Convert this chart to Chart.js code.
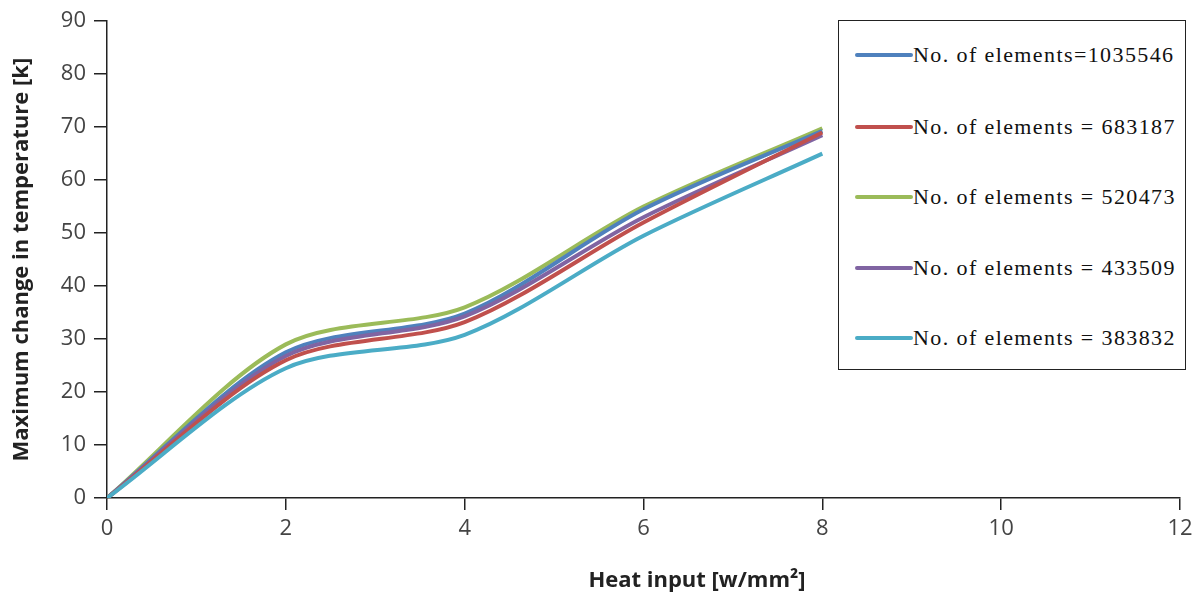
<!DOCTYPE html>
<html lang="en">
<head>
    <meta charset="UTF-8">
    <title>Maximum change in temperature vs heat input</title>
    <script src="https://cdn.jsdelivr.net/npm/chart.js"></script>
    <style>
        body { margin: 0; background: #fff; }
        #wrap { position: relative; width: 1202px; height: 597px; }
        #legend {
            position: absolute; left: 838px; top: 20px; width: 348px; height: 350px;
            border: 1.5px solid #222; background: #fff; box-sizing: border-box;
            font-family: "Liberation Serif", "Times New Roman", serif; font-size: 22px; color: #111;
            letter-spacing: 1.4px;
        }
        .row { position: absolute; left: 16px; height: 26px; display: flex; align-items: center; white-space: nowrap; }
        .swatch { width: 58px; height: 4px; border-radius: 2px; }
        #xtitle {
            position: absolute; left: 697px; top: 563px; transform: translateX(-50%);
            font-family: "Open Sans", sans-serif; font-weight: bold; font-size: 22px; color: #222;
            white-space: nowrap;
        }
    </style>
</head>
<body>
<div id="wrap">
    <canvas id="chart" width="1202" height="597"></canvas>
    <div id="legend"></div>
    <div id="xtitle">Heat input [w/mm²]</div>
</div>
<script>
    // heat input points (w/mm2)
    const heatInput = [0, 2, 4, 6, 8];

    // max temperature change per mesh size
    const elems1035546 = [0, 27.5, 34.8, 54.5, 69.3];
    const elems683187  = [0, 26.0, 33.2, 52.0, 69.0];
    const elems520473  = [0, 29.0, 36.0, 55.0, 69.8];
    const elems433509  = [0, 26.8, 34.3, 53.0, 68.5];
    const elems383832  = [0, 24.5, 30.8, 49.5, 65.0];

    const seriesNames = [
        "No. of elements=1035546",
        "No. of elements = 683187",
        "No. of elements = 520473",
        "No. of elements = 433509",
        "No. of elements = 383832"
    ];
    const seriesData = [elems1035546, elems683187, elems520473, elems433509, elems383832];
    const seriesColors = ["#4F81BD", "#C0504D", "#9BBB59", "#8064A2", "#4BACC6"];

    const xTicks = [0, 2, 4, 6, 8, 10, 12];
    const yTicks = [0, 10, 20, 30, 40, 50, 60, 70, 80, 90];

    // draw order: green on top like the original
    const drawOrder = [4, 1, 3, 0, 2];
    const datasets = drawOrder.map(i => ({
        label: seriesNames[i],
        data: heatInput.map((x, j) => ({ x: x, y: seriesData[i][j] })),
        borderColor: seriesColors[i],
        borderWidth: 4,
        pointRadius: 0,
        tension: 0.3,
        fill: false
    }));

    const tickFont = { family: "'Open Sans', sans-serif", size: 22 };
    const titleFont = { family: "'Open Sans', sans-serif", size: 22, weight: "bold" };

    new Chart(document.getElementById("chart"), {
        type: "line",
        data: { datasets: datasets },
        options: {
            responsive: false,
            animation: false,
            layout: { padding: { top: 20, right: 22, left: 9, bottom: 0 } },
            plugins: { legend: { display: false }, tooltip: { enabled: false } },
            scales: {
                x: {
                    type: "linear", min: 0, max: 12,
                    afterBuildTicks: s => { s.ticks = xTicks.map(v => ({ value: v })); },
                    afterFit: s => { s.height = 99; },
                    grid: { display: true, drawOnChartArea: false, drawTicks: true, tickLength: 12, color: "#222", lineWidth: 1.5 },
                    border: { display: true, color: "#222", width: 1.5 },
                    ticks: { font: tickFont, color: "#444", padding: 6, maxRotation: 0 },
                    title: { display: false }
                },
                y: {
                    min: 0, max: 90,
                    afterBuildTicks: s => { s.ticks = yTicks.map(v => ({ value: v })); },
                    afterFit: s => { s.width = 98; },
                    grid: { display: true, drawOnChartArea: false, drawTicks: true, tickLength: 13, color: "#222", lineWidth: 1.5 },
                    border: { display: true, color: "#222", width: 1.5 },
                    ticks: { font: tickFont, color: "#444", padding: 8 },
                    title: { display: true, text: "Maximum change in temperature [k]", font: titleFont, color: "#222", padding: { top: 0, bottom: 0 } }
                }
            }
        }
    });

    // legend box
    const legend = document.getElementById("legend");
    const rowTops = [21, 93, 163, 234, 304];
    seriesNames.forEach((name, i) => {
        const row = document.createElement("div");
        row.className = "row";
        row.style.top = rowTops[i] + "px";
        row.innerHTML = '<span class="swatch" style="background:' + seriesColors[i] + '"></span><span>' + name + '</span>';
        legend.appendChild(row);
    });
</script>
</body>
</html>
